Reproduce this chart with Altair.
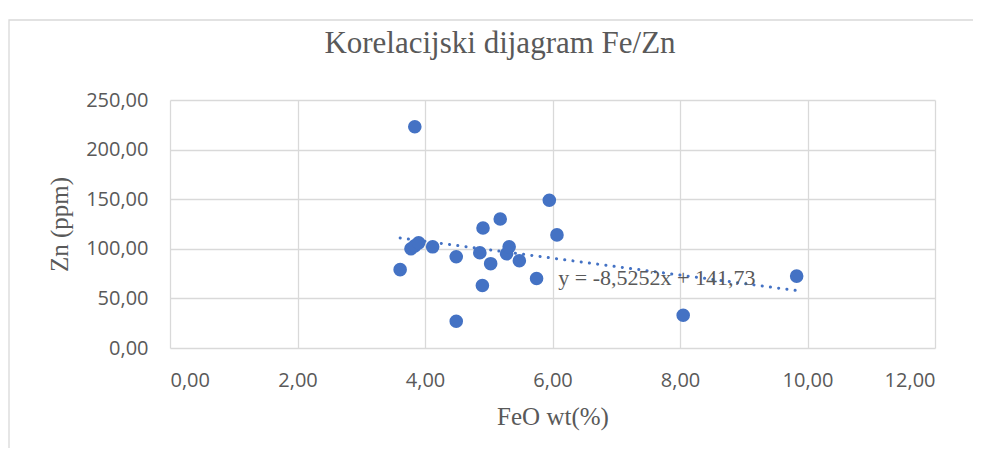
import altair as alt
import pandas as pd

# ---- data ----
feo = [3.61, 3.78, 3.84, 3.90, 3.84, 4.12, 4.49, 4.49, 4.86, 4.90, 4.91,
       5.03, 5.18, 5.28, 5.32, 5.48, 5.75, 5.95, 6.07, 8.05, 9.83]
zn = [79, 100, 103, 106, 223, 102, 92, 27, 96, 63, 121,
      85, 130, 95, 102, 88, 70, 149, 114, 33, 72.5]

trend_slope = -8.5252
trend_intercept = 141.73
trend_label = "y = -8,5252x + 141,73"
label_pos_x = [6.09]
label_pos_y = [63.5]

title_text = "Korelacijski dijagram Fe/Zn"
x_title = "FeO wt(%)"
y_title = "Zn (ppm)"
x_ticks = [0, 2, 4, 6, 8, 10, 12]
y_ticks = [0, 50, 100, 150, 200, 250]

BLUE = "#4472C4"
GREY = "#595959"
GRID = "#d9d9d9"
SERIF = "Liberation Serif"
SANS = "Open Sans"

pts = pd.DataFrame({"FeO": feo, "Zn": zn})
tx = [min(feo), max(feo)]
trend = pd.DataFrame({"FeO": tx, "Zn": [trend_slope * v + trend_intercept for v in tx]})
lab = pd.DataFrame({"FeO": label_pos_x, "Zn": label_pos_y, "t": [trend_label]})
one = pd.DataFrame({"k": [0]})

label_expr = "replace(format(datum.value, '.2f'), '.', ',')"

xscale = alt.Scale(domain=[0, 12], nice=False)
yscale = alt.Scale(domain=[0, 250], nice=False)

xenc = alt.X("FeO:Q", scale=xscale,
             axis=alt.Axis(values=x_ticks, labelExpr=label_expr, title=x_title,
                           titleY=76, titleBaseline="alphabetic"))
yenc = alt.Y("Zn:Q", scale=yscale,
             axis=alt.Axis(values=y_ticks, labelExpr=label_expr, title=y_title,
                           titleX=-111, titleY=124, titleAngle=-90,
                           titleAlign="center", titleBaseline="middle"))

border = alt.Chart(one).mark_rect(fillOpacity=0, stroke=GRID, strokeWidth=1.3, clip=False).encode(
    x=alt.value(-161), x2=alt.value(900), y=alt.value(-80), y2=alt.value(420)
)

title = alt.Chart(one).mark_text(font=SERIF, fontSize=31, color=GREY, align="center",
                                 baseline="alphabetic").encode(
    x=alt.value(330), y=alt.value(-47), text=alt.value(title_text)
)

line = alt.Chart(trend).mark_line(color=BLUE, strokeDash=[0.1, 8.2], strokeCap="round",
                                  strokeWidth=3).encode(x=xenc, y=yenc)

points = alt.Chart(pts).mark_circle(size=185, color=BLUE, opacity=1).encode(x=xenc, y=yenc)

annot = alt.Chart(lab).mark_text(font=SERIF, fontSize=22, color=GREY, align="left",
                                 baseline="alphabetic").encode(
    x=alt.X("FeO:Q", scale=xscale), y=alt.Y("Zn:Q", scale=yscale), text="t:N"
)

chart = alt.layer(border, title, line, points, annot).properties(
    width=765, height=248,
    autosize=alt.AutoSizeParams(type="none"),
    padding={"left": 162, "top": 92, "right": 38, "bottom": 100},
    background="white",
).configure_view(stroke=None).configure_axis(
    grid=True, gridColor=GRID, gridWidth=1.3, ticks=False, domain=False,
    labelFont=SANS, labelFontSize=20, labelColor=GREY, labelPadding=22,
    titleFont=SERIF, titleFontSize=25, titleColor=GREY, titleFontWeight="normal",
)

chart.save("out.html", embed_options={"renderer": "svg", "actions": False})
